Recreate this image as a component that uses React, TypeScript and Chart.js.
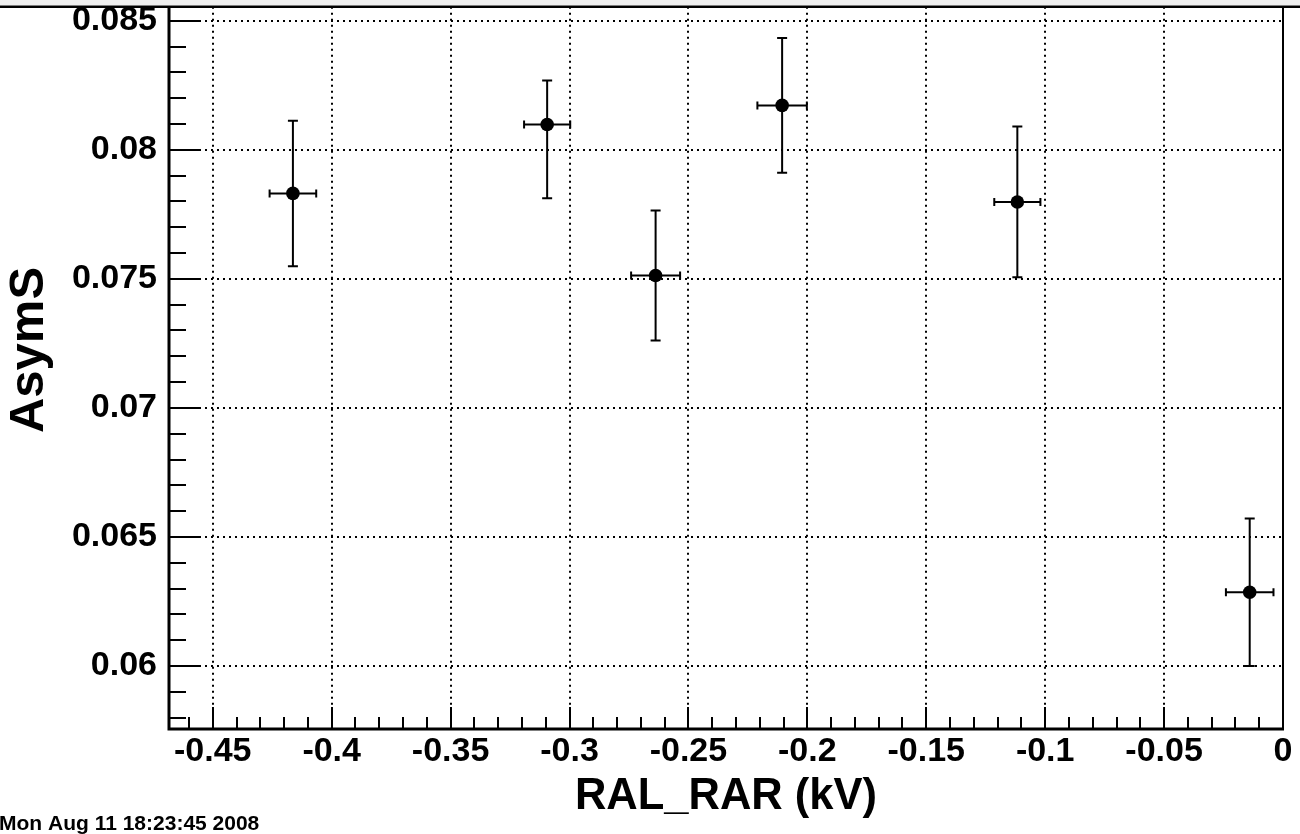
import React, { useEffect, useRef } from 'react';
import { Chart, registerables } from 'chart.js';

Chart.register(...registerables);

// ---- data ----
const xValues = [-0.4163, -0.3094, -0.2638, -0.2106, -0.1117, -0.014];
const yValues = [0.07831, 0.08098, 0.07513, 0.08172, 0.07798, 0.06286];
const xErrors = [0.0098, 0.0097, 0.0103, 0.0104, 0.0097, 0.01];
const yErrorsHigh = [0.00282, 0.0017, 0.00252, 0.00261, 0.00292, 0.00286];
const yErrorsLow = [0.00282, 0.00286, 0.00252, 0.00261, 0.00292, 0.00286];

// ---- axes ----
const xMajorTicks = [-0.45, -0.4, -0.35, -0.3, -0.25, -0.2, -0.15, -0.1, -0.05, 0];
const xTickLabels = ['-0.45', '-0.4', '-0.35', '-0.3', '-0.25', '-0.2', '-0.15', '-0.1', '-0.05', '0'];
const yMajorTicks = [0.06, 0.065, 0.07, 0.075, 0.08, 0.085];
const yTickLabels = ['0.06', '0.065', '0.07', '0.075', '0.08', '0.085'];
const xRange = [-0.4684, 0];
const yRange = [0.05756, 0.08554];
const xMinorStep = 0.01;
const yMinorStep = 0.001;

const xTitle = 'RAL_RAR (kV)';
const yTitle = 'AsymS';
const stampText = 'Mon Aug 11 18:23:45 2008';

const FONT = '"Liberation Sans", Arial, Helvetica, sans-serif';

function minorTicks(min: number, max: number, step: number, majors: number[]) {
  const out: number[] = [];
  const start = Math.ceil(min / step - 1e-6);
  const end = Math.floor(max / step + 1e-6);
  for (let i = start; i <= end; i++) {
    const v = i * step;
    if (!majors.some((m) => Math.abs(m - v) < step / 10)) out.push(v);
  }
  return out;
}

const rootFramePlugin = {
  id: 'rootFrame',
  beforeDatasetsDraw(chart: any) {
    const { ctx, chartArea: a, scales } = chart;
    const x = scales.x;
    const y = scales.y;
    ctx.save();
    // dotted grid
    ctx.strokeStyle = '#000';
    ctx.lineWidth = 2;
    ctx.setLineDash([2, 4]);
    xMajorTicks.forEach((v) => {
      const px = Math.round(x.getPixelForValue(v));
      ctx.beginPath();
      ctx.moveTo(px, a.top);
      ctx.lineTo(px, a.bottom);
      ctx.stroke();
    });
    yMajorTicks.forEach((v) => {
      const py = Math.round(y.getPixelForValue(v));
      ctx.beginPath();
      ctx.moveTo(a.left, py);
      ctx.lineTo(a.right, py);
      ctx.stroke();
    });
    ctx.setLineDash([]);

    // error bars
    ctx.lineWidth = 2;
    ctx.strokeStyle = '#000';
    xValues.forEach((xv, i) => {
      const yv = yValues[i];
      const cx = x.getPixelForValue(xv);
      const cy = y.getPixelForValue(yv);
      const yTop = y.getPixelForValue(yv + yErrorsHigh[i]);
      const yBot = y.getPixelForValue(yv - yErrorsLow[i]);
      const xL = x.getPixelForValue(xv - xErrors[i]);
      const xR = x.getPixelForValue(xv + xErrors[i]);
      ctx.beginPath();
      ctx.moveTo(cx, yTop);
      ctx.lineTo(cx, yBot);
      ctx.moveTo(cx - 5, yTop);
      ctx.lineTo(cx + 5, yTop);
      ctx.moveTo(cx - 5, yBot);
      ctx.lineTo(cx + 5, yBot);
      ctx.moveTo(xL, cy);
      ctx.lineTo(xR, cy);
      ctx.moveTo(xL, cy - 4);
      ctx.lineTo(xL, cy + 4);
      ctx.moveTo(xR, cy - 4);
      ctx.lineTo(xR, cy + 4);
      ctx.stroke();
    });
    ctx.restore();
  },
  afterDatasetsDraw(chart: any) {
    const { ctx, chartArea: a, scales, width } = chart;
    const x = scales.x;
    const y = scales.y;
    ctx.save();
    ctx.strokeStyle = '#000';
    ctx.setLineDash([]);

    // ticks inside the frame
    ctx.lineWidth = 2;
    yMajorTicks.forEach((v) => {
      const py = Math.round(y.getPixelForValue(v));
      ctx.beginPath();
      ctx.moveTo(a.left, py);
      ctx.lineTo(a.left + 32, py);
      ctx.stroke();
    });
    minorTicks(yRange[0], yRange[1], yMinorStep, yMajorTicks).forEach((v) => {
      const py = Math.round(y.getPixelForValue(v));
      ctx.beginPath();
      ctx.moveTo(a.left, py);
      ctx.lineTo(a.left + 17, py);
      ctx.stroke();
    });
    xMajorTicks.forEach((v) => {
      const px = Math.round(x.getPixelForValue(v));
      ctx.beginPath();
      ctx.moveTo(px, a.bottom);
      ctx.lineTo(px, a.bottom - 22);
      ctx.stroke();
    });
    minorTicks(xRange[0], xRange[1], xMinorStep, xMajorTicks).forEach((v) => {
      const px = Math.round(x.getPixelForValue(v));
      ctx.beginPath();
      ctx.moveTo(px, a.bottom);
      ctx.lineTo(px, a.bottom - 12);
      ctx.stroke();
    });

    // frame
    ctx.lineWidth = 2;
    ctx.beginPath();
    ctx.moveTo(a.right, a.top);
    ctx.lineTo(a.right, a.bottom);
    ctx.stroke();
    ctx.lineWidth = 3;
    ctx.beginPath();
    ctx.moveTo(a.left, a.top);
    ctx.lineTo(a.left, a.bottom);
    ctx.lineTo(a.right + 1, a.bottom);
    ctx.stroke();
    // top border across the page
    ctx.fillStyle = '#efefef';
    ctx.fillRect(0, 0, width, a.top - 1.5);
    ctx.lineWidth = 2.5;
    ctx.beginPath();
    ctx.moveTo(0, a.top);
    ctx.lineTo(width, a.top);
    ctx.stroke();
    ctx.restore();
  },
  afterDraw(chart: any) {
    const { ctx } = chart;
    ctx.save();
    ctx.fillStyle = '#000';
    // y title
    ctx.font = `bold 49px ${FONT}`;
    ctx.translate(29, 350);
    ctx.rotate(-Math.PI / 2);
    ctx.textAlign = 'center';
    ctx.textBaseline = 'middle';
    ctx.fillText(yTitle, 0, 0);
    ctx.restore();

    ctx.save();
    ctx.fillStyle = '#000';
    ctx.font = `bold 21px ${FONT}`;
    ctx.textAlign = 'left';
    ctx.textBaseline = 'alphabetic';
    ctx.fillText(stampText, -1, 830);
    ctx.restore();
  },
};

export default function App() {
  const canvasRef = useRef<HTMLCanvasElement | null>(null);

  useEffect(() => {
    if (!canvasRef.current) return;
    const chart = new Chart(canvasRef.current, {
      type: 'scatter',
      data: {
        datasets: [
          {
            data: xValues.map((xv, i) => ({ x: xv, y: yValues[i] })),
            backgroundColor: '#000',
            borderColor: '#000',
            borderWidth: 0,
            pointRadius: 6.8,
            pointHoverRadius: 6.8,
          },
        ],
      },
      options: {
        animation: false,
        responsive: false,
        maintainAspectRatio: false,
        events: [],
        layout: { padding: { top: 6, right: 17, left: 0, bottom: 0 } },
        plugins: {
          legend: { display: false },
          tooltip: { enabled: false },
        },
        scales: {
          x: {
            type: 'linear',
            min: xRange[0],
            max: xRange[1],
            grid: { display: false, drawTicks: false },
            border: { display: false },
            afterBuildTicks: (s: any) => {
              s.ticks = xMajorTicks.map((v) => ({ value: v }));
            },
            afterFit: (s: any) => {
              s.height = 105;
              s.paddingLeft = 0;
              s.paddingRight = 0;
              s.paddingTop = 0;
              s.paddingBottom = 0;
            },
            ticks: {
              autoSkip: false,
              maxRotation: 0,
              minRotation: 0,
              padding: 6,
              color: '#000',
              font: { family: FONT, size: 34, weight: 'bold', lineHeight: 1 },
              callback: (_v: any, i: number) => xTickLabels[i],
            },
            title: {
              display: true,
              text: xTitle,
              color: '#000',
              font: { family: FONT, size: 43.5, weight: 'bold', lineHeight: 1 },
              padding: { top: 0, bottom: 15 },
            },
          },
          y: {
            type: 'linear',
            min: yRange[0],
            max: yRange[1],
            grid: { display: false, drawTicks: false },
            border: { display: false },
            afterBuildTicks: (s: any) => {
              s.ticks = yMajorTicks.map((v) => ({ value: v }));
            },
            afterFit: (s: any) => {
              s.width = 169;
              s.paddingLeft = 0;
              s.paddingRight = 0;
              s.paddingTop = 0;
              s.paddingBottom = 0;
            },
            ticks: {
              autoSkip: false,
              padding: 12,
              color: '#000',
              font: { family: FONT, size: 34, weight: 'bold', lineHeight: 1 },
              callback: (_v: any, i: number) => yTickLabels[i],
            },
          },
        },
      },
      plugins: [rootFramePlugin],
    } as any);
    return () => chart.destroy();
  }, []);

  return (
    <div style={{ position: 'fixed', left: 0, top: 0, width: 1300, height: 834, background: '#fff' }}>
      <canvas ref={canvasRef} width={1300} height={834} style={{ display: 'block' }} />
    </div>
  );
}
